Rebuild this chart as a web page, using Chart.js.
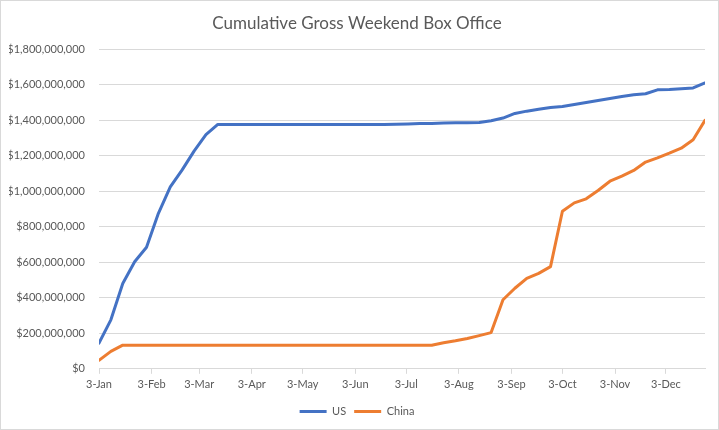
<!DOCTYPE html>
<html>
<head>
<meta charset="utf-8">
<script src="https://cdn.jsdelivr.net/npm/chart.js@4.4.1/dist/chart.umd.min.js"></script>
<style>
  body { margin: 0; background: #fff; }
  #wrap { width: 719px; height: 430px; }
</style>
</head>
<body>
<div id="wrap"><canvas id="myChart" width="719" height="430"></canvas></div>
<script>
// weekend dates (one point per weekend)
const weekDates = [
    '2021-01-03', '2021-01-10', '2021-01-17', '2021-01-24', '2021-01-31',
    '2021-02-07', '2021-02-14', '2021-02-21', '2021-02-28',
    '2021-03-07', '2021-03-14', '2021-03-21', '2021-03-28',
    '2021-04-04', '2021-04-11', '2021-04-18', '2021-04-25',
    '2021-05-02', '2021-05-09', '2021-05-16', '2021-05-23', '2021-05-30',
    '2021-06-06', '2021-06-13', '2021-06-20', '2021-06-27',
    '2021-07-04', '2021-07-11', '2021-07-18', '2021-07-25',
    '2021-08-01', '2021-08-08', '2021-08-15', '2021-08-22', '2021-08-29',
    '2021-09-05', '2021-09-12', '2021-09-19', '2021-09-26',
    '2021-10-03', '2021-10-10', '2021-10-17', '2021-10-24', '2021-10-31',
    '2021-11-07', '2021-11-14', '2021-11-21', '2021-11-28',
    '2021-12-05', '2021-12-12', '2021-12-19', '2021-12-26'
];

// cumulative gross, in dollars
const usGross = [
    145e6, 276e6, 481e6, 603e6, 685e6, 876e6, 1025e6, 1121e6, 1227e6, 1320e6,
    1377e6, 1377e6, 1377e6, 1377e6, 1377e6, 1377e6, 1377e6, 1377e6, 1377e6, 1377e6,
    1377e6, 1377e6, 1377e6, 1377e6, 1377e6,
    1378e6, 1380e6, 1382e6, 1383e6, 1385e6, 1387e6, 1387e6, 1388e6, 1398e6, 1413e6,
    1439e6, 1452e6, 1463e6, 1473e6, 1478e6, 1490e6, 1501e6, 1512e6, 1523e6, 1535e6,
    1544e6, 1550e6, 1572e6, 1574e6, 1578e6, 1583e6, 1611e6
];
const chinaGross = [
    48e6, 98e6, 133e6, 133e6, 133e6, 133e6, 133e6, 133e6, 133e6, 133e6,
    133e6, 133e6, 133e6, 133e6, 133e6, 133e6, 133e6, 133e6, 133e6, 133e6,
    133e6, 133e6, 133e6, 133e6, 133e6, 133e6, 133e6, 133e6, 133e6,
    147e6, 158e6, 171e6, 187e6, 204e6, 389e6, 454e6, 510e6, 538e6, 576e6,
    888e6, 935e6, 958e6, 1005e6, 1057e6, 1086e6, 1118e6, 1165e6, 1189e6, 1215e6,
    1243e6, 1291e6, 1400e6
];

// x axis tick labels and the dates they sit on
const tickLabels = ['3-Jan', '3-Feb', '3-Mar', '3-Apr', '3-May', '3-Jun',
                    '3-Jul', '3-Aug', '3-Sep', '3-Oct', '3-Nov', '3-Dec'];
const tickDates = ['2021-01-03', '2021-02-03', '2021-03-03', '2021-04-03', '2021-05-03', '2021-06-03',
                   '2021-07-03', '2021-08-03', '2021-09-03', '2021-10-03', '2021-11-03', '2021-12-03'];

const yMax = 1800000000;
const yStep = 200000000;

// days since the first weekend
function dayOffset(iso) {
    return (Date.parse(iso) - Date.parse(weekDates[0])) / 86400000;
}

function toPoints(values) {
    return values.map((v, i) => ({ x: dayOffset(weekDates[i]), y: v }));
}

const textColor = '#595959';
const gridColor = '#D9D9D9';

// thin border round the whole chart, like the spreadsheet chart frame
const frame = {
    id: 'frame',
    afterDraw(chart) {
        const ctx = chart.ctx;
        ctx.save();
        ctx.strokeStyle = gridColor;
        ctx.lineWidth = 1;
        ctx.strokeRect(0.5, 0.5, chart.width - 1, chart.height - 1);
        ctx.restore();
    }
};

const ctx = document.getElementById('myChart');
new Chart(ctx.getContext('2d'), {
    type: 'line',
    data: {
        datasets: [{
            label: 'US',
            data: toPoints(usGross),
            borderColor: '#4472C4',
            backgroundColor: '#4472C4',
            borderWidth: 3,
            borderJoinStyle: 'round',
            borderCapStyle: 'round',
            pointRadius: 0,
            tension: 0
        }, {
            label: 'China',
            data: toPoints(chinaGross),
            borderColor: '#ED7D31',
            backgroundColor: '#ED7D31',
            borderWidth: 3,
            borderJoinStyle: 'round',
            borderCapStyle: 'round',
            pointRadius: 0,
            tension: 0
        }]
    },
    options: {
        responsive: false,
        animation: false,
        layout: { padding: { left: 9, right: 14, top: 0, bottom: 3 } },
        plugins: {
            tooltip: { enabled: false },
            title: {
                display: true,
                text: 'Cumulative Gross Weekend Box Office',
                color: textColor,
                font: { family: 'Lato', size: 17, weight: 'normal' },
                padding: { top: 13, bottom: 16 }
            },
            legend: {
                position: 'bottom',
                labels: {
                    color: textColor,
                    font: { family: 'Lato', size: 11 },
                    boxWidth: 27,
                    boxHeight: 3,
                    padding: 8,
                    generateLabels(chart) {
                        return Chart.defaults.plugins.legend.labels.generateLabels(chart)
                            .map(l => ({ ...l, lineWidth: 0 }));
                    }
                }
            }
        },
        scales: {
            x: {
                type: 'linear',
                min: 0,
                max: dayOffset(weekDates[weekDates.length - 1]),
                grid: {
                    drawOnChartArea: false,
                    drawTicks: true,
                    tickLength: 5,
                    color: gridColor
                },
                border: { display: true, color: gridColor },
                afterBuildTicks(scale) {
                    scale.ticks = tickDates.map(d => ({ value: dayOffset(d) }));
                },
                afterFit(scale) {
                    scale.height += 3;
                },
                ticks: {
                    autoSkip: false,
                    maxRotation: 0,
                    padding: 4,
                    color: textColor,
                    font: { family: 'Lato', size: 11 },
                    callback: (value, index) => tickLabels[index]
                }
            },
            y: {
                min: 0,
                max: yMax,
                grid: { color: gridColor, drawTicks: false },
                border: { display: false },
                afterFit(scale) {
                    scale.width = 90;
                },
                ticks: {
                    stepSize: yStep,
                    padding: 14,
                    color: textColor,
                    font: { family: 'Lato', size: 11 },
                    callback: value => '$' + Number(value).toLocaleString('en-US')
                }
            }
        }
    },
    plugins: [frame]
});
</script>
</body>
</html>
